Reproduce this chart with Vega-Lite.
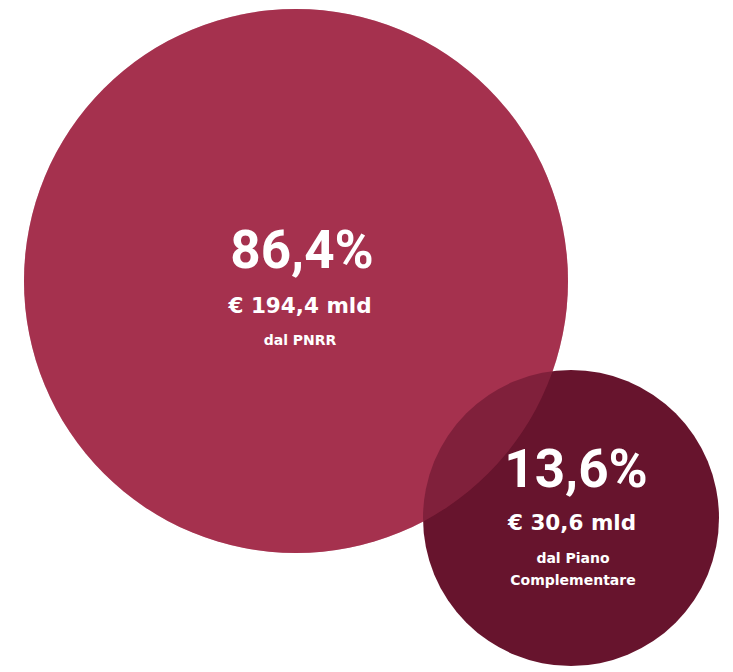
{
  "$schema": "https://vega.github.io/schema/vega-lite/v6.json",
  "width": 733,
  "height": 672,
  "padding": 0,
  "autosize": {"type": "fit", "contains": "padding"},
  "background": "white",
  "config": {"view": {"stroke": null}},
  "data": {
    "values": [
      {"fonte": "PNRR", "quota": 86.4, "quota_label": "86,4%", "importo_label": "€ 194,4 mld", "desc": ["dal PNRR"]},
      {"fonte": "Piano Complementare", "quota": 13.6, "quota_label": "13,6%", "importo_label": "€ 30,6 mld", "desc": ["dal Piano", "Complementare"]}
    ]
  },
  "layer": [
    {
      "mark": {"type": "point", "shape": "circle", "filled": true, "opacity": 1, "strokeWidth": 0},
      "encoding": {
        "x": {"field": "fonte", "type": "nominal", "axis": null, "scale": {"type": "point", "domain": ["PNRR", "Piano Complementare"], "range": [296, 571], "padding": 0}},
        "y": {"field": "fonte", "type": "nominal", "axis": null, "scale": {"type": "point", "domain": ["PNRR", "Piano Complementare"], "range": [281, 518], "padding": 0}},
        "size": {"field": "quota", "type": "quantitative", "legend": null, "scale": {"type": "linear", "domain": [13.6, 86.4], "range": [87616, 295936]}},
        "color": {"field": "fonte", "type": "nominal", "legend": null, "scale": {"domain": ["PNRR", "Piano Complementare"], "range": ["#A5314F", "#67142D"]}}
      }
    },
    {
      "transform": [{"filter": "datum.fonte === 'PNRR'"}],
      "mark": {"type": "point", "shape": "circle", "filled": true, "opacity": 0.42, "strokeWidth": 0, "color": "#A5314F"},
      "encoding": {
        "x": {"field": "fonte", "type": "nominal", "axis": null, "scale": {"type": "point", "domain": ["PNRR", "Piano Complementare"], "range": [296, 571], "padding": 0}},
        "y": {"field": "fonte", "type": "nominal", "axis": null, "scale": {"type": "point", "domain": ["PNRR", "Piano Complementare"], "range": [281, 518], "padding": 0}},
        "size": {"field": "quota", "type": "quantitative", "legend": null, "scale": {"type": "linear", "domain": [13.6, 86.4], "range": [87616, 295936]}}
      }
    },
    {
      "layer": [
        {
          "mark": {"type": "text", "font": "Roboto", "fontWeight": "bold", "fontSize": 53, "color": "white", "align": "center", "baseline": "alphabetic"},
          "encoding": {
            "x": {"field": "fonte", "type": "nominal", "axis": null, "scale": {"type": "point", "domain": ["PNRR", "Piano Complementare"], "range": [302, 576], "padding": 0}},
            "y": {"field": "fonte", "type": "nominal", "axis": null, "scale": {"type": "point", "domain": ["PNRR", "Piano Complementare"], "range": [268, 487], "padding": 0}},
            "text": {"field": "quota_label"}
          }
        },
        {
          "mark": {"type": "text", "font": "DejaVu Sans", "fontWeight": "bold", "fontSize": 21.5, "color": "white", "align": "center", "baseline": "alphabetic"},
          "encoding": {
            "x": {"field": "fonte", "type": "nominal", "axis": null, "scale": {"type": "point", "domain": ["PNRR", "Piano Complementare"], "range": [300, 572], "padding": 0}},
            "y": {"field": "fonte", "type": "nominal", "axis": null, "scale": {"type": "point", "domain": ["PNRR", "Piano Complementare"], "range": [313, 530], "padding": 0}},
            "text": {"field": "importo_label"}
          }
        },
        {
          "mark": {"type": "text", "font": "DejaVu Sans", "fontWeight": "bold", "fontSize": 14, "lineHeight": 22, "color": "white", "align": "center", "baseline": "alphabetic"},
          "encoding": {
            "x": {"field": "fonte", "type": "nominal", "axis": null, "scale": {"type": "point", "domain": ["PNRR", "Piano Complementare"], "range": [300, 573], "padding": 0}},
            "y": {"field": "fonte", "type": "nominal", "axis": null, "scale": {"type": "point", "domain": ["PNRR", "Piano Complementare"], "range": [345, 563], "padding": 0}},
            "text": {"field": "desc"}
          }
        }
      ],
      "resolve": {"scale": {"x": "independent", "y": "independent"}}
    }
  ],
  "resolve": {"scale": {"x": "independent", "y": "independent"}}
}
